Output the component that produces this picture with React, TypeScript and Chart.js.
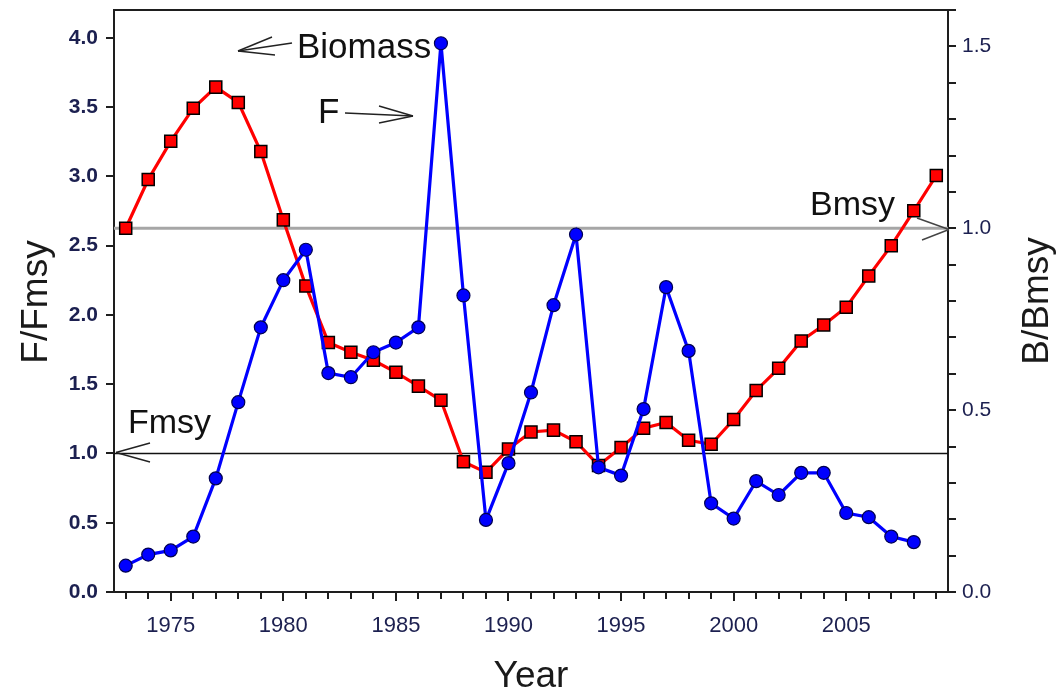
import React, { useEffect, useRef } from 'react';
import { Chart, registerables } from 'chart.js';

Chart.register(...registerables);

// ---- data ----
const fYears = [1973, 1974, 1975, 1976, 1977, 1978, 1979, 1980, 1981, 1982, 1983, 1984, 1985, 1986, 1987, 1988, 1989, 1990, 1991, 1992, 1993, 1994, 1995, 1996, 1997, 1998, 1999, 2000, 2001, 2002, 2003, 2004, 2005, 2006, 2007, 2008];
const fValues = [0.19, 0.27, 0.30, 0.40, 0.82, 1.37, 1.91, 2.25, 2.47, 1.58, 1.55, 1.73, 1.80, 1.91, 3.96, 2.14, 0.52, 0.93, 1.44, 2.07, 2.58, 0.90, 0.84, 1.32, 2.20, 1.74, 0.64, 0.53, 0.80, 0.70, 0.86, 0.86, 0.57, 0.54, 0.40, 0.36];

const bYears = [1973, 1974, 1975, 1976, 1977, 1978, 1979, 1980, 1981, 1982, 1983, 1984, 1985, 1986, 1987, 1988, 1989, 1990, 1991, 1992, 1993, 1994, 1995, 1996, 1997, 1998, 1999, 2000, 2001, 2002, 2003, 2004, 2005, 2006, 2007, 2008, 2009];
const bValues = [1.00, 1.134, 1.239, 1.330, 1.388, 1.346, 1.211, 1.023, 0.841, 0.686, 0.659, 0.637, 0.604, 0.566, 0.527, 0.358, 0.329, 0.393, 0.440, 0.445, 0.413, 0.348, 0.397, 0.450, 0.466, 0.417, 0.406, 0.474, 0.554, 0.615, 0.690, 0.734, 0.783, 0.869, 0.952, 1.048, 1.145];

const xTickYears = [1973, 1974, 1975, 1976, 1977, 1978, 1979, 1980, 1981, 1982, 1983, 1984, 1985, 1986, 1987, 1988, 1989, 1990, 1991, 1992, 1993, 1994, 1995, 1996, 1997, 1998, 1999, 2000, 2001, 2002, 2003, 2004, 2005, 2006, 2007, 2008, 2009];
const leftTicks = [0, 0.5, 1.0, 1.5, 2.0, 2.5, 3.0, 3.5, 4.0];
const rightTicks = [0, 0.1, 0.2, 0.3, 0.4, 0.5, 0.6, 0.7, 0.8, 0.9, 1.0, 1.1, 1.2, 1.3, 1.4, 1.5, 1.6];
const rightLabelled = [0, 0.5, 1.0, 1.5];

const fmsyRef = 1.0;
const bmsyRef = 1.0;

const FONT = "'Liberation Sans', Arial, Helvetica, sans-serif";
const TICK_COLOR = '#1c2050';
const AXIS_COLOR = '#1e1e1e';

function line(ctx: CanvasRenderingContext2D, x1: number, y1: number, x2: number, y2: number) {
  ctx.beginPath();
  ctx.moveTo(x1, y1);
  ctx.lineTo(x2, y2);
  ctx.stroke();
}

const decorPlugin = {
  id: 'decor',
  beforeDatasetsDraw(chart: any) {
    const { ctx, chartArea: a, scales } = chart;
    ctx.save();
    const yb = scales.y1.getPixelForValue(bmsyRef);
    ctx.strokeStyle = '#a6a6a6';
    ctx.lineWidth = 3;
    line(ctx, a.left, yb, a.right, yb);
    const yf = scales.y.getPixelForValue(fmsyRef);
    ctx.strokeStyle = '#111111';
    ctx.lineWidth = 1.6;
    line(ctx, a.left, yf, a.right, yf);
    ctx.restore();
  },
  afterDraw(chart: any) {
    const { ctx, chartArea: a, scales } = chart;
    ctx.save();
    // top frame line
    ctx.strokeStyle = AXIS_COLOR;
    ctx.lineWidth = 2;
    line(ctx, a.left - 1, a.top, a.right + 1, a.top);

    // tick marks
    ctx.lineWidth = 2;
    for (const yr of xTickYears) {
      const x = Math.round(scales.x.getPixelForValue(yr));
      const len = yr % 5 === 0 ? 9 : 7;
      line(ctx, x, a.bottom, x, a.bottom + len);
    }
    for (const v of leftTicks) {
      const y = Math.round(scales.y.getPixelForValue(v));
      line(ctx, a.left, y, a.left - 8, y);
    }
    for (const v of rightTicks) {
      const y = Math.round(scales.y1.getPixelForValue(v));
      line(ctx, a.right, y, a.right + 8, y);
    }

    // axis titles
    ctx.fillStyle = '#1a1a1a';
    ctx.font = `37px ${FONT}`;
    ctx.textAlign = 'center';
    ctx.textBaseline = 'alphabetic';
    ctx.save();
    ctx.translate(47, 302);
    ctx.rotate(-Math.PI / 2);
    ctx.fillText('F/Fmsy', 0, 0);
    ctx.restore();
    ctx.save();
    ctx.translate(1048, 301);
    ctx.rotate(-Math.PI / 2);
    ctx.fillText('B/Bmsy', 0, 0);
    ctx.restore();
    ctx.fillText('Year', 531, 687);

    // annotations
    ctx.textAlign = 'left';
    ctx.fillStyle = '#111111';
    ctx.font = `35px ${FONT}`;
    ctx.fillText('Biomass', 297, 58);
    ctx.fillText('F', 318, 123);
    ctx.font = `34px ${FONT}`;
    ctx.fillText('Fmsy', 128, 433);
    ctx.fillText('Bmsy', 810, 215);

    ctx.strokeStyle = '#222222';
    ctx.lineWidth = 1.4;
    // Biomass arrow (pointing left)
    line(ctx, 292, 43, 238, 51);
    line(ctx, 238, 51, 272, 37);
    line(ctx, 238, 51, 275, 55);
    // F arrow (pointing right)
    line(ctx, 345, 113, 413, 116);
    line(ctx, 413, 116, 379, 106);
    line(ctx, 413, 116, 379, 123);
    // Fmsy arrowhead at left end of reference line
    line(ctx, 116, 452.5, 150, 443);
    line(ctx, 116, 452.5, 150, 462);
    // Bmsy arrowhead at right end of reference line
    ctx.strokeStyle = '#444444';
    line(ctx, 917, 218, 949, 229.5);
    line(ctx, 949, 229.5, 922, 240);
    ctx.restore();
  },
};

export default function App() {
  const canvasRef = useRef<HTMLCanvasElement | null>(null);

  useEffect(() => {
    const canvas = canvasRef.current;
    if (!canvas) return;
    const fData = fYears.map((yr, i) => ({ x: yr, y: fValues[i] }));
    const bData = bYears.map((yr, i) => ({ x: yr, y: bValues[i] }));

    const chart = new Chart(canvas, {
      type: 'line',
      data: {
        datasets: [
          {
            label: 'F',
            data: fData,
            yAxisID: 'y',
            borderColor: '#0000ff',
            borderWidth: 3.2,
            backgroundColor: '#0000ff',
            pointStyle: 'circle',
            pointRadius: 6.5,
            pointBorderWidth: 1.2,
            pointBorderColor: '#000050',
            pointBackgroundColor: '#0000ff',
            tension: 0,
            fill: false,
          },
          {
            label: 'Biomass',
            data: bData,
            yAxisID: 'y1',
            borderColor: '#ff0000',
            borderWidth: 3.2,
            backgroundColor: '#ff0000',
            pointStyle: 'rect',
            pointRadius: 8.5,
            pointBorderWidth: 1.5,
            pointBorderColor: '#000000',
            pointBackgroundColor: '#ff0000',
            tension: 0,
            fill: false,
          },
        ],
      },
      options: {
        animation: false,
        responsive: false,
        devicePixelRatio: 1,
        events: [],
        layout: { padding: { top: 9, left: 0, right: 0, bottom: 0 } },
        plugins: { legend: { display: false }, tooltip: { enabled: false } },
        scales: {
          x: {
            type: 'linear',
            position: 'bottom',
            min: 1972.48,
            max: 2009.52,
            afterBuildTicks: (s: any) => {
              s.ticks = xTickYears.map((v) => ({ value: v }));
            },
            afterFit: (s: any) => {
              s.height = 98;
              s.paddingLeft = 0;
              s.paddingRight = 0;
            },
            grid: { color: 'rgba(0,0,0,0)', drawOnChartArea: false, drawTicks: true, tickLength: 9 },
            border: { display: true, color: AXIS_COLOR, width: 2 },
            ticks: {
              autoSkip: false,
              maxRotation: 0,
              minRotation: 0,
              padding: 12,
              color: TICK_COLOR,
              font: { family: FONT, size: 22 },
              callback: (v: any) => (Number(v) % 5 === 0 ? String(v) : ''),
            },
          },
          y: {
            type: 'linear',
            position: 'left',
            min: 0,
            max: 4.2,
            afterBuildTicks: (s: any) => {
              s.ticks = leftTicks.map((v) => ({ value: v }));
            },
            afterFit: (s: any) => {
              s.width = 114;
              s.paddingTop = 0;
              s.paddingBottom = 0;
            },
            grid: { color: 'rgba(0,0,0,0)', drawOnChartArea: false, drawTicks: true, tickLength: 8 },
            border: { display: true, color: AXIS_COLOR, width: 2 },
            ticks: {
              autoSkip: false,
              padding: 8,
              color: TICK_COLOR,
              font: { family: FONT, size: 21, weight: 'bold' },
              callback: (v: any) => Number(v).toFixed(1),
            },
          },
          y1: {
            type: 'linear',
            position: 'right',
            min: 0,
            max: 1.6,
            afterBuildTicks: (s: any) => {
              s.ticks = rightTicks.map((v) => ({ value: v }));
            },
            afterFit: (s: any) => {
              s.width = 112;
              s.paddingTop = 0;
              s.paddingBottom = 0;
            },
            grid: { color: 'rgba(0,0,0,0)', drawOnChartArea: false, drawTicks: true, tickLength: 8 },
            border: { display: true, color: AXIS_COLOR, width: 2 },
            ticks: {
              autoSkip: false,
              padding: 6,
              color: TICK_COLOR,
              font: { family: FONT, size: 21 },
              callback: (v: any) => {
                const n = Number(v);
                return rightLabelled.some((r) => Math.abs(r - n) < 1e-6) ? n.toFixed(1) : '';
              },
            },
          },
        },
      },
      plugins: [decorPlugin],
    });

    return () => {
      chart.destroy();
    };
  }, []);

  return (
    <div style={{ position: 'absolute', left: 0, top: 0, width: 1060, height: 690, background: '#ffffff' }}>
      <canvas ref={canvasRef} width={1060} height={690} style={{ display: 'block', width: 1060, height: 690 }} />
    </div>
  );
}
